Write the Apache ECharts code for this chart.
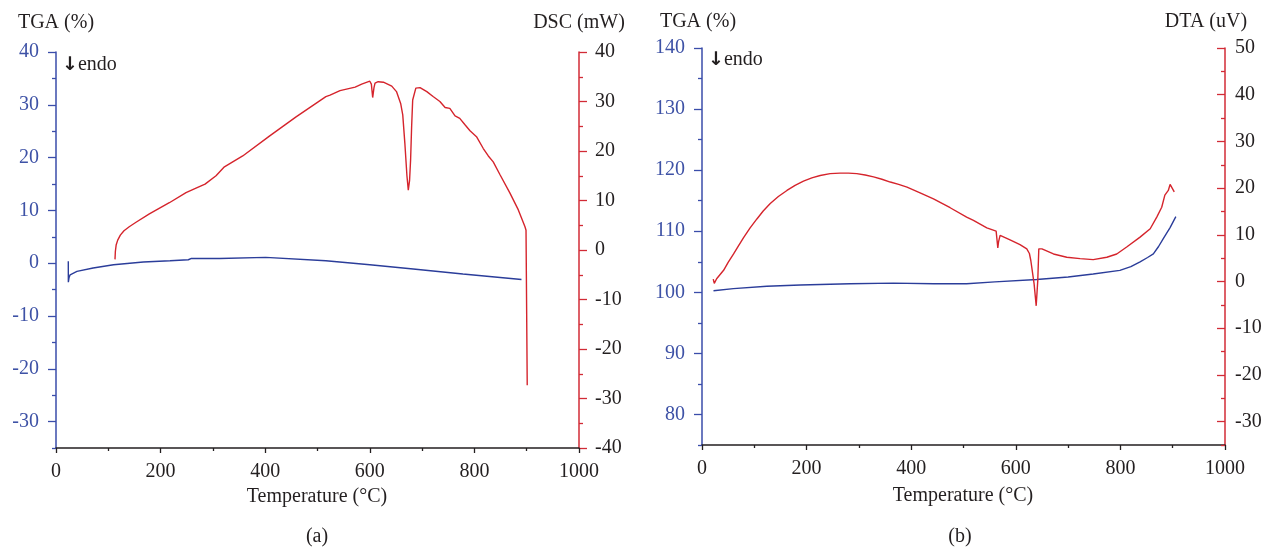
<!DOCTYPE html>
<html>
<head>
<meta charset="utf-8">
<script src="https://cdn.jsdelivr.net/npm/echarts@6/dist/echarts.min.js"></script>
<style>
html,body{margin:0;padding:0;background:#fff;}
#c{width:1271px;height:549px;}
</style>
</head>
<body>
<div id="c"></div>
<script>
// ---- Data (temperature °C, value) ----
const tgaA = [[23.5,0.35],[23.6,-3.6],[25,-2.7],[27,-2.2],[40,-1.56],[71,-0.9],[110,-0.3],[167,0.22],[218,0.46],[253,0.65],[256,0.3],[259,0.9],[313,0.9],[401,1.1],[516,0.46],[600,-0.3],[683,-1.1],[778,-2.05],[890,-3.1]];
const dscA = [[112.8,-1.9],[113.5,-0.3],[115,1.0],[118,2.0],[123,3.0],[130,3.9],[140,4.7],[153,5.6],[178.5,7.3],[216.7,9.55],[248.6,11.6],[267.7,12.5],[285,13.3],[306,15.0],[322,16.8],[357,19.0],[408,23.0],[459,26.9],[516,31.0],[524,31.3],[543,32.2],[572,32.9],[584.5,33.5],[600,34.1],[603,33.5],[605.5,30.8],[608,32.8],[610,33.7],[616,34.0],[626,33.9],[642,33.1],[651,32.0],[659,29.6],[663,27.3],[667,21.6],[671,15.0],[673.6,12.1],[676,14.0],[678,18.2],[680,25.0],[682,30.3],[688,32.7],[696,32.8],[709,32.0],[721,31.0],[734,30.0],[744,28.8],[753,28.6],[763,27.1],[772,26.6],[782,25.3],[791.6,24.1],[804,22.9],[817,20.5],[826.6,19.0],[836,17.8],[849,15.2],[868,11.5],[884,8.1],[896.7,4.7],[898.7,4.0],[901,-27.3]];
const tgaB = [[22,100.25],[60,100.6],[124,101.0],[188,101.2],[283,101.4],[366,101.5],[443,101.4],[506,101.4],[560,101.7],[640,102.1],[700,102.5],[748,103.0],[799,103.6],[820,104.2],[837.6,105.0],[852,105.7],[863,106.3],[873,107.5],[882,108.8],[895,110.6],[906,112.4]];
const dtaB = [[21.5,0.5],[23.5,-0.4],[28,0.6],[41.3,2.4],[50,4.1],[60.4,5.9],[70,7.7],[79.5,9.4],[92,11.5],[105,13.4],[117,15.1],[130.5,16.7],[146,18.2],[162.4,19.5],[178,20.6],[194,21.5],[210,22.2],[226,22.7],[245,23.1],[264,23.2],[280,23.2],[296,23.1],[312,22.8],[328,22.4],[344,21.9],[360,21.3],[376,20.8],[392,20.2],[417,19.0],[442.6,17.7],[474.5,15.8],[506,13.8],[519,13.1],[544.6,11.5],[562.4,10.8],[564,9.0],[565.6,7.2],[567,8.5],[570,9.9],[589,8.9],[608,7.9],[621,7.0],[626,6.0],[628.7,4.5],[635,-0.5],[639,-5.2],[642,0.2],[644,7.0],[650,7.0],[672,5.9],[697.5,5.2],[723,4.9],[748,4.7],[774,5.2],[793,5.9],[812,7.4],[837.6,9.5],[857,11.3],[869.5,13.8],[879,15.9],[885,18.5],[891.6,19.5],[895,20.8],[903,19.2]];

// ---- Tick values ----
const tgaATicks = [-30,-20,-10,0,10,20,30,40];
const tgaAMinor = [-35,-25,-15,-5,5,15,25,35];
const tgaBTicks = [80,90,100,110,120,130,140];
const tgaBMinor = [75,85,95,105,115,125,135];
const dtaBTicks = [-30,-20,-10,0,10,20,30,40,50];
const dtaBMinor = [-35,-25,-15,-5,5,15,25,35,45];

const FONT = '"Liberation Serif", "Times New Roman", serif';
const BLUE_AX = '#3A4DAA';
const BLUE_TXT = '#3E52A6';
const BLUE_LN = '#2B3D9A';
const RED_AX = '#D22B36';
const RED_LN = '#D5242C';
const DARK = '#231F20';
const TICK_FS = 20;
const fmt = v => String(v);

function xAxis(gi){
  return {gridIndex:gi,type:'value',min:0,max:1000,interval:200,
    axisLine:{show:true,onZero:false,lineStyle:{color:DARK,width:1.5}},
    axisTick:{show:true,length:5,lineStyle:{color:DARK,width:1.3}},
    minorTick:{show:true,splitNumber:2,length:3,lineStyle:{color:DARK,width:1.3}},
    axisLabel:{color:DARK,fontFamily:FONT,fontSize:TICK_FS,margin:14,formatter:fmt},
    splitLine:{show:false},minorSplitLine:{show:false}};
}
function yMajor(gi,pos,min,max,vals,color,labColor,inside,margin){
  return {gridIndex:gi,type:'value',position:pos,min:min,max:max,
    axisLine:{show:true,onZero:false,lineStyle:{color:color,width:1.5}},
    axisTick:{show:true,inside:inside,length:8,customValues:vals,lineStyle:{color:color,width:1.3}},
    axisLabel:{show:true,customValues:vals,color:labColor,fontFamily:FONT,fontSize:TICK_FS,margin:margin,formatter:fmt},
    splitLine:{show:false}};
}
function yMinor(gi,pos,min,max,vals,color,inside){
  return {gridIndex:gi,type:'value',position:pos,min:min,max:max,
    axisLine:{show:false,onZero:false},
    axisTick:{show:true,inside:inside,length:4,customValues:vals,lineStyle:{color:color,width:1.3}},
    axisLabel:{show:false,customValues:vals},
    splitLine:{show:false}};
}

const chart = echarts.init(document.getElementById('c'),null,{renderer:'canvas'});
const txt = (s,x,y,align,size,color)=>({type:'text',x:x,y:y,style:{text:s,fill:color||DARK,font:(size||20)+'px '+FONT,textAlign:align||'center',textVerticalAlign:'middle'}});
const endo = (x,y)=>({type:'text',x:x,y:y,style:{text:'{a|↓}{b|endo}',textAlign:'left',textVerticalAlign:'middle',
  rich:{a:{fontFamily:'"DejaVu Sans", sans-serif',fontSize:19,fill:DARK,fontWeight:'bold'},b:{fontFamily:FONT,fontSize:20,fill:DARK}}}});
const ls = c => ({color:c,width:1.4});
chart.setOption({
  animation:false,
  backgroundColor:'#fff',
  grid:[
    {left:56,top:52,width:523,height:396,outerBoundsMode:'none',containLabel:false},
    {left:702,top:48,width:523,height:397,outerBoundsMode:'none',containLabel:false}
  ],
  xAxis:[xAxis(0),xAxis(1)],
  yAxis:[
    yMajor(0,'left',-35,40,tgaATicks,BLUE_AX,BLUE_TXT,false,17),
    yMinor(0,'left',-35,40,tgaAMinor,BLUE_AX,false),
    {gridIndex:0,type:'value',position:'right',min:-40,max:40,interval:10,
      axisLine:{show:true,onZero:false,lineStyle:{color:RED_AX,width:1.5}},
      axisTick:{show:true,length:8,lineStyle:{color:RED_AX,width:1.3}},
      minorTick:{show:true,splitNumber:2,length:4,lineStyle:{color:RED_AX,width:1.3}},
      axisLabel:{color:DARK,fontFamily:FONT,fontSize:TICK_FS,margin:16,formatter:fmt},
      splitLine:{show:false},minorSplitLine:{show:false}},
    yMajor(1,'left',75,140,tgaBTicks,BLUE_AX,BLUE_TXT,false,17),
    yMinor(1,'left',75,140,tgaBMinor,BLUE_AX,false),
    yMajor(1,'right',-35,50,dtaBTicks,RED_AX,DARK,true,10),
    yMinor(1,'right',-35,50,dtaBMinor,RED_AX,true)
  ],
  series:[
    {type:'line',xAxisIndex:0,yAxisIndex:0,data:tgaA,showSymbol:false,lineStyle:ls(BLUE_LN),z:3},
    {type:'line',xAxisIndex:0,yAxisIndex:2,data:dscA,showSymbol:false,lineStyle:ls(RED_LN),z:3},
    {type:'line',xAxisIndex:1,yAxisIndex:3,data:tgaB,showSymbol:false,lineStyle:ls(BLUE_LN),z:3},
    {type:'line',xAxisIndex:1,yAxisIndex:5,data:dtaB,showSymbol:false,lineStyle:ls(RED_LN),z:3}
  ],
  graphic:[
    txt('TGA (%)',56,23),
    txt('DSC (mW)',579,23),
    endo(62,65),
    txt('Temperature (°C)',317,497),
    txt('(a)',317,537),
    txt('TGA (%)',698,22),
    txt('DTA (uV)',1206,22),
    endo(708,60),
    txt('Temperature (°C)',963,496),
    txt('(b)',960,537)
  ]
});
</script>
</body>
</html>
